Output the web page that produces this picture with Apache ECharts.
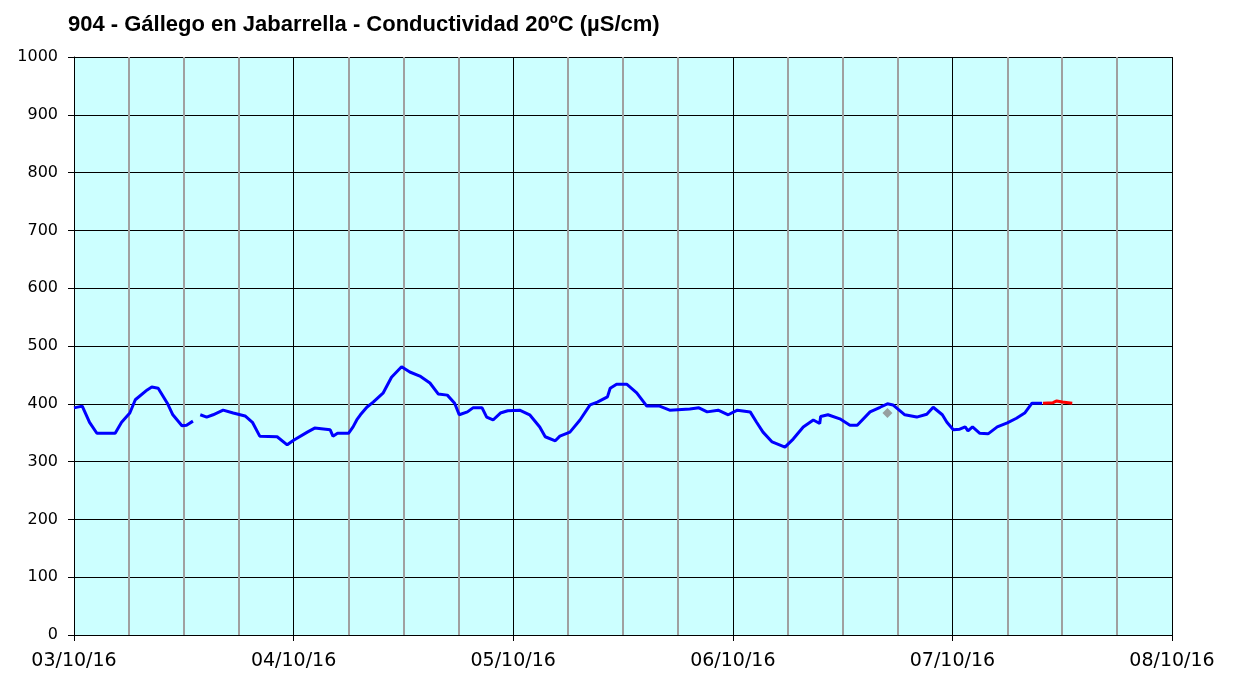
<!DOCTYPE html>
<html>
<head>
<meta charset="utf-8">
<script src="https://cdn.jsdelivr.net/npm/echarts@6/dist/echarts.min.js"></script>
<style>
  html, body { margin: 0; padding: 0; background: #fff; }
  #chart { width: 1233px; height: 675px; }
</style>
</head>
<body>
<div id="chart"></div>
<script>
// hours counted from 03/10/16 00:00
var dayLabels = ['03/10/16', '04/10/16', '05/10/16', '06/10/16', '07/10/16', '08/10/16'];

var blueHours = [0, 0.9, 1.7, 2.5, 4.5, 5.2, 6.1, 6.7, 8, 8.5, 9.2, 10.2, 10.8, 11.8, 12.3, 13,
    13.4,
    13.8, 14.5, 15.2, 16.3, 17.4, 18.7, 19.5, 20.3, 22.2, 23.3, 24, 25.5, 26.3, 28, 28.3, 28.8,
    30, 30.5, 30.9, 31.3, 32, 32.7, 33.8, 34.7, 35.8, 36.7, 37.8, 38.9, 39.8, 40.8, 41.6, 42.1,
    43, 43.6, 44.6, 45.1, 45.8, 46.6, 47.4, 48.7, 49.8, 50.9, 51.5, 52.6, 53.1, 54.2, 55.3, 56.4,
    57.2, 58.3, 58.6, 59.3, 60.4, 61.5, 62.6, 64, 65.1, 67.3, 68.3, 69.2, 70.4, 71.5, 72.5, 73.9,
    74.6, 75.3, 76.3, 77.7, 78.6, 79.7, 80.8, 81.5, 81.6, 82.4, 83.7, 84.8, 85.6, 87, 88.1, 88.9,
    89.5, 90.8, 92.1, 93.2, 93.9, 94.9, 95.4, 96.1, 96.8, 97.4, 97.7, 98.2, 99, 99.9, 100.9, 102,
    103, 103.9, 104.7, 105.8];
var blueValues = [393, 396, 368, 349, 349, 368, 384, 407, 424, 429, 427, 401, 381, 362, 363, 370,
    null,
    381, 377, 381, 389, 384, 379, 368, 344, 343, 329, 337, 351, 358, 355, 344, 349,
    349, 360, 372, 381, 394, 403, 419, 446, 464, 455, 448, 436, 417, 415, 401, 381,
    386, 393, 393, 377, 372, 384, 388, 389, 381, 360, 343, 336, 344, 351, 372, 398,
    403, 412, 427, 434, 434, 419, 396, 396, 389, 391, 393, 386, 389, 381, 389, 386,
    368, 351, 334, 325, 339, 360, 372, 366, 378, 381, 374, 363, 363, 386, 394, 400,
    398, 381, 377, 382, 394, 381, 368, 355, 356, 360, 353, 360, 349, 348, 360, 367,
    375, 384, 401, 401];

var redHours = [105.9, 107, 107.4, 108, 109.1];
var redValues = [401, 402, 405, 403, 401];

var grayHours = [88.9];
var grayValues = [384];

function zip(xs, ys) {
    return xs.map(function(x, i) { return [x, ys[i]]; });
}

var chart = echarts.init(document.getElementById('chart'));

var option = {
    animation: false,
    title: {
        text: '904 - Gállego en Jabarrella - Conductividad 20ºC (µS/cm)',
        left: 63,
        top: 9,
        textStyle: {
            fontFamily: 'Liberation Sans, Arial',
            fontWeight: 'bold',
            fontSize: 22,
            color: '#000'
        }
    },
    grid: {
        left: 74,
        right: 61,
        top: 57,
        bottom: 40,
        show: true,
        backgroundColor: '#ccffff',
        borderWidth: 0
    },
    xAxis: {
        type: 'value',
        min: 0,
        max: 120,
        interval: 24,
        axisLine: { show: true, onZero: false, lineStyle: { color: '#000', width: 1 } },
        axisTick: { show: true, length: 6, lineStyle: { color: '#000' } },
        axisLabel: {
            margin: 17,
            fontFamily: 'DejaVu Sans, Verdana',
            fontSize: 19,
            color: '#000',
            formatter: function(v) { return dayLabels[Math.round(v / 24)]; }
        },
        splitLine: { show: true, lineStyle: { color: '#000', width: 1 } },
        minorTick: { show: false, splitNumber: 4 },
        minorSplitLine: { show: true, lineStyle: { color: '#a0a0a0', width: 2 } }
    },
    yAxis: {
        type: 'value',
        min: 0,
        max: 1000,
        interval: 100,
        axisLine: { show: true, lineStyle: { color: '#000', width: 1 } },
        axisTick: { show: true, length: 6, lineStyle: { color: '#000' } },
        axisLabel: {
            margin: 16,
            fontFamily: 'DejaVu Sans, Verdana',
            fontSize: 16,
            color: '#000',
            formatter: function(v) { return String(v); }
        },
        splitLine: { show: true, lineStyle: { color: '#000', width: 1 } }
    },
    series: [
        {
            name: 'Conductividad',
            type: 'line',
            data: zip(blueHours, blueValues),
            showSymbol: false,
            connectNulls: false,
            lineStyle: { color: '#0000ff', width: 3 },
            z: 3
        },
        {
            name: 'Provisional',
            type: 'line',
            data: zip(redHours, redValues),
            showSymbol: false,
            lineStyle: { color: '#ff0000', width: 3 },
            z: 3
        },
        {
            name: 'Validado',
            type: 'scatter',
            data: zip(grayHours, grayValues),
            symbol: 'diamond',
            symbolSize: 10,
            itemStyle: { color: '#888888' },
            z: 4
        }
    ]
};

chart.setOption(option);
</script>
</body>
</html>
